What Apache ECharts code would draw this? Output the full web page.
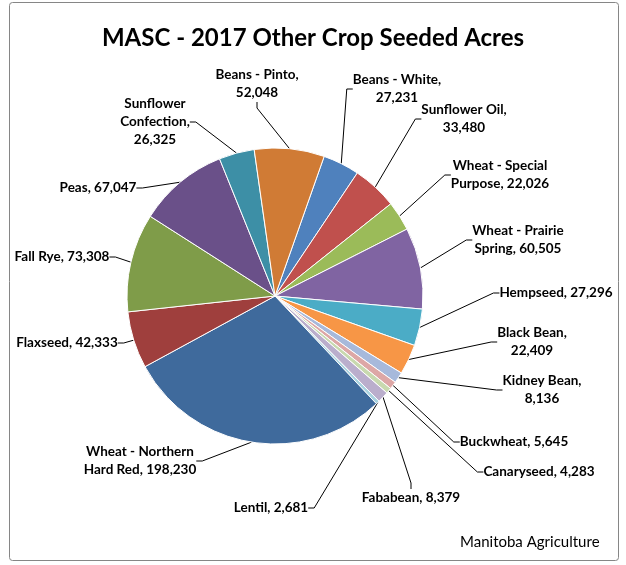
<!DOCTYPE html>
<html>
<head>
<meta charset="utf-8">
<script src="https://cdn.jsdelivr.net/npm/echarts@6/dist/echarts.min.js"></script>
<style>
html,body{margin:0;padding:0;background:#fff;}
#chart{width:626px;height:565px;}
</style>
</head>
<body>
<div id="chart"></div>
<script>
// Slices in clockwise order from the Beans - White slice
const categories = ['Beans - White', 'Sunflower Oil', 'Wheat - Special Purpose', 'Wheat - Prairie Spring', 'Hempseed', 'Black Bean', 'Kidney Bean', 'Buckwheat', 'Canaryseed', 'Fababean', 'Lentil', 'Wheat - Northern Hard Red', 'Flaxseed', 'Fall Rye', 'Peas', 'Sunflower Confection', 'Beans - Pinto'];
const values = [27231, 33480, 22026, 60505, 27296, 22409, 8136, 5645, 4283, 8379, 2681, 198230, 42333, 73308, 67047, 26325, 52048];
// how each label breaks into lines
const labelNames = ['Beans - White', 'Sunflower Oil', 'Wheat - Special\nPurpose', 'Wheat - Prairie\nSpring', 'Hempseed', 'Black Bean', 'Kidney Bean', 'Buckwheat', 'Canaryseed', 'Fababean', 'Lentil', 'Wheat - Northern\nHard Red', 'Flaxseed', 'Fall Rye', 'Peas', 'Sunflower\nConfection', 'Beans - Pinto'];
const valueOnNewLine = [true, true, false, false, false, true, true, false, false, false, false, false, false, false, false, true, true];
const colors = ['#4F81BD', '#C0504D', '#9BBB59', '#8064A2', '#4BACC6', '#F79646', '#A7B9DB', '#DDA7A6', '#C8D9AF', '#BAAECC', '#A9D3E0', '#3F6A9C', '#9F3F3D', '#7F9C49', '#6A5089', '#3D8FA6', '#D07B35'];
// label centre positions (px)
const labelPos = [[397, 89], [464, 119], [500, 175], [518, 240], [556, 293], [532, 342], [542, 390], [514, 442], [539, 472], [411, 498], [271, 508], [140, 461], [67, 343], [62, 257], [98, 188], [155, 122], [257, 84]];

const fmt = v => v.toLocaleString('en-US');
const data = categories.map((c, i) => ({
  name: c,
  value: values[i],
  itemStyle: { color: colors[i] },
  label: { formatter: labelNames[i] + (valueOnNewLine[i] ? ',\n' : ', ') + fmt(values[i]) }
}));

const chart = echarts.init(document.getElementById('chart'), null, { renderer: 'canvas' });
chart.setOption({
  animation: false,
  backgroundColor: '#ffffff',
  title: {
    text: 'MASC - 2017 Other Crop Seeded Acres',
    left: 'center',
    top: 21,
    textStyle: { fontFamily: 'Lato', fontWeight: 'bold', fontSize: 24, color: '#000' }
  },
  graphic: [
    { type: 'rect', shape: { x: 9.5, y: 2.5, width: 609, height: 558, r: 3 }, style: { fill: 'none', stroke: '#868686', lineWidth: 1 }, silent: true },
    { type: 'text', left: 460, top: 535, style: { text: 'Manitoba Agriculture', fontFamily: 'Lato', fontSize: 15, fill: '#000' } }
  ],
  series: [{
    type: 'pie',
    center: [275, 296],
    radius: 148,
    startAngle: 90 - 19.4,
    clockwise: true,
    data: data,
    itemStyle: { borderColor: '#ffffff', borderWidth: 1 },
    label: {
      show: true,
      color: '#000',
      fontFamily: 'Lato',
      fontWeight: 'bold',
      fontSize: 13.5,
      lineHeight: 18,
      align: 'center'
    },
    labelLine: { show: true, length: 10, length2: 6, lineStyle: { color: '#000', width: 1 } },
    labelLayout: function (params) {
      const p = labelPos[params.dataIndex];
      return { x: p[0], y: p[1], align: 'center', verticalAlign: 'middle', moveOverlap: false, hideOverlap: false };
    }
  }]
});
</script>
</body>
</html>
